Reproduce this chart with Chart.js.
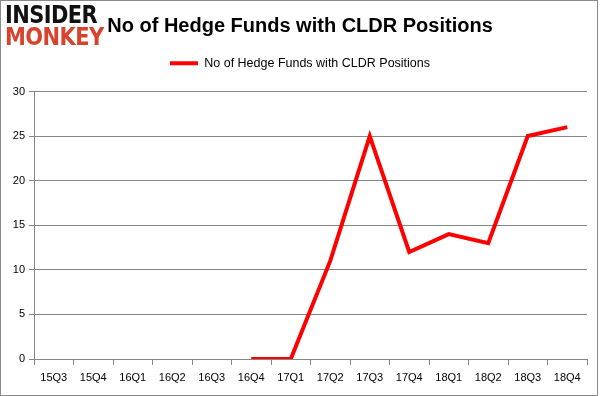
<!DOCTYPE html>
<html lang="en">
<head>
    <meta charset="UTF-8">
    <title>No of Hedge Funds with CLDR Positions</title>
    <script src="https://cdn.jsdelivr.net/npm/chart.js"></script>
    <style>
        html, body {
            margin: 0;
            padding: 0;
            background: #fff;
        }
        .frame {
            position: relative;
            width: 596px;
            height: 394px;
            border: 1px solid #8a8a8a;
            overflow: hidden;
        }
        .logo {
            position: absolute;
            left: 4px;
            top: 3px;
            font-family: "DejaVu Sans", sans-serif;
            font-weight: bold;
            font-size: 21px;
            line-height: 19px;
            letter-spacing: -0.6px;
            transform: scaleY(1.18);
            transform-origin: top left;
        }
        .logo .top { color: #111; }
        .logo .bottom { color: #d8432e; }
    </style>
</head>
<body>
    <div class="frame">
        <canvas id="hedgeChart" width="596" height="394"></canvas>
        <div class="logo">
            <div class="top">INSIDER</div>
            <div class="bottom">MONKEY</div>
        </div>
    </div>

    <script>
        // Chart data
        const quarters = ['15Q3', '15Q4', '16Q1', '16Q2', '16Q3', '16Q4', '17Q1',
                          '17Q2', '17Q3', '17Q4', '18Q1', '18Q2', '18Q3', '18Q4'];
        const fundCounts = [null, null, null, null, null, 0, 0, 11, 25, 12, 14, 13, 25, 26];
        const yTicks = [0, 5, 10, 15, 20, 25, 30];

        const gridGray = '#868686';

        // extra room under the legend so the plot starts lower
        const legendGap = {
            id: 'legendGap',
            afterInit(chart) {
                const lg = chart.legend;
                if (!lg) return;
                const origFit = lg.fit.bind(lg);
                lg.fit = function() {
                    origFit();
                    this.height += 12;
                };
            }
        };

        const ctx = document.getElementById('hedgeChart').getContext('2d');
        new Chart(ctx, {
            type: 'line',
            data: {
                labels: quarters,
                datasets: [{
                    label: 'No of Hedge Funds with CLDR Positions',
                    data: fundCounts,
                    borderColor: '#ff0000',
                    backgroundColor: '#ff0000',
                    borderWidth: 4,
                    pointRadius: 0,
                    tension: 0
                }]
            },
            plugins: [legendGap],
            options: {
                responsive: false,
                animation: false,
                layout: {
                    padding: { left: 12, right: 10, top: 0, bottom: 0 }
                },
                plugins: {
                    title: {
                        display: true,
                        text: 'No of Hedge Funds with CLDR Positions',
                        color: '#000',
                        font: { family: 'Liberation Sans', size: 20, weight: 'bold' },
                        padding: { top: 13, bottom: 0 }
                    },
                    legend: {
                        display: true,
                        labels: {
                            usePointStyle: true,
                            pointStyle: 'line',
                            pointStyleWidth: 28,
                            color: '#000',
                            padding: 19,
                            font: { family: 'Liberation Sans', size: 12.5 }
                        }
                    },
                    tooltip: { enabled: false }
                },
                scales: {
                    x: {
                        offset: true,
                        grid: {
                            display: true,
                            drawOnChartArea: false,
                            offset: true,
                            color: gridGray,
                            tickLength: 6
                        },
                        border: { color: gridGray },
                        ticks: {
                            color: '#000',
                            padding: 6,
                            maxRotation: 0,
                            autoSkip: false,
                            font: { family: 'Liberation Sans', size: 11 }
                        },
                        afterFit: function(scale) { scale.height = 36; }
                    },
                    y: {
                        min: 0,
                        max: 30,
                        afterBuildTicks: function(scale) {
                            scale.ticks = yTicks.map(v => ({ value: v }));
                        },
                        grid: {
                            color: gridGray,
                            tickLength: 5
                        },
                        border: { color: gridGray },
                        ticks: {
                            color: '#000',
                            padding: 4,
                            font: { family: 'Liberation Sans', size: 11 }
                        },
                        afterFit: function(scale) { scale.width = 21; }
                    }
                }
            }
        });
    </script>
</body>
</html>
